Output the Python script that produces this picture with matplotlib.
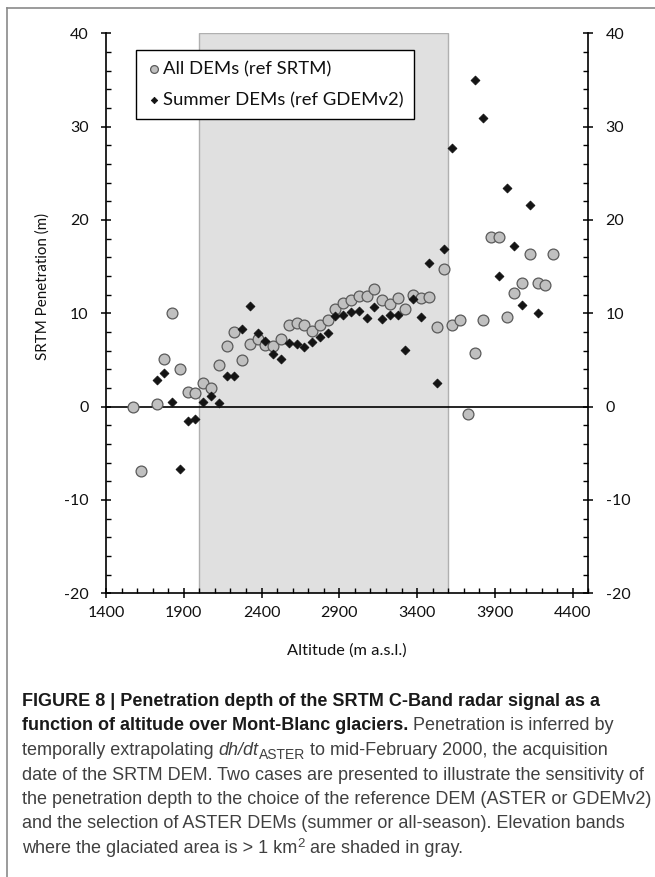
import matplotlib
matplotlib.use("Agg")
import matplotlib.pyplot as plt
from matplotlib.transforms import IdentityTransform
from matplotlib.lines import Line2D
from matplotlib.ticker import MultipleLocator

plt.rcParams["axes.unicode_minus"] = False

# ---------------- data ----------------
all_alt = [1575, 1625, 1725, 1775, 1825, 1875, 1925, 1975, 2025, 2075, 2125, 2175,
           2225, 2275, 2325, 2375, 2425, 2475, 2525, 2575, 2625, 2675, 2725, 2775,
           2825, 2875, 2925, 2975, 3025, 3075, 3125, 3175, 3225, 3275, 3325, 3375,
           3425, 3475, 3525, 3575, 3625, 3675, 3725, 3775, 3825, 3875, 3925, 3975,
           4025, 4075, 4125, 4175, 4225, 4275]
all_pen = [0.0, -6.9, 0.3, 5.1, 10.0, 4.0, 1.6, 1.5, 2.5, 2.0, 4.5, 6.5,
           8.0, 5.0, 6.7, 7.2, 6.6, 6.5, 7.3, 8.7, 9.0, 8.75, 8.1, 8.7,
           9.3, 10.5, 11.1, 11.4, 11.9, 11.9, 12.6, 11.4, 11.0, 11.6, 10.5, 12.0,
           11.6, 11.7, 8.5, 14.8, 8.7, 9.3, -0.8, 5.8, 9.3, 18.2, 18.2, 9.6,
           12.2, 13.2, 16.3, 13.2, 13.0, 16.4]

sum_alt = [1725, 1775, 1825, 1875, 1925, 1975, 2025, 2075, 2125, 2175, 2225, 2275,
           2325, 2375, 2425, 2475, 2525, 2575, 2625, 2675, 2725, 2775, 2825, 2875,
           2925, 2975, 3025, 3075, 3125, 3175, 3225, 3275, 3325, 3375, 3425, 3475,
           3525, 3575, 3625, 3775, 3825, 3925, 3975, 4025, 4075, 4125, 4175]
sum_pen = [2.9, 3.6, 0.5, -6.7, -1.5, -1.3, 0.5, 1.1, 0.4, 3.3, 3.3, 8.3,
           10.75, 7.9, 7.0, 5.6, 5.1, 6.8, 6.7, 6.4, 6.9, 7.5, 7.9, 9.7,
           9.8, 10.1, 10.2, 9.5, 10.7, 9.4, 9.8, 9.8, 6.1, 11.5, 9.6, 15.4,
           2.5, 16.9, 27.7, 35.0, 30.9, 14.05, 23.4, 17.2, 10.85, 21.6, 10.0]

shade_band = (2000, 3600)
x_ticks = [1400, 1900, 2400, 2900, 3400, 3900, 4400]
y_ticks = [-20, -10, 0, 10, 20, 30, 40]
labels = ["All DEMs (ref SRTM)", "Summer DEMs (ref GDEMv2)"]

W, H = 655, 877
fig = plt.figure(figsize=(W / 100, H / 100), dpi=100)
fig.patch.set_facecolor("white")

ax = fig.add_axes([106 / W, 1 - 593.3 / H, (588.2 - 106) / W, (593.3 - 33.3) / H])
ax.set_xlim(1400, 4500)
ax.set_ylim(-20, 40)

ax.axvspan(shade_band[0], shade_band[1], ymin=0, ymax=1, facecolor="#e0e0e0",
           edgecolor="#b0b0b0", linewidth=1.0, zorder=0)
ax.axhline(0, color="black", linewidth=1.2, zorder=1)

h1 = ax.scatter(all_alt, all_pen, s=7.8 ** 2, marker="o", facecolor="#c0c0c0",
                edgecolor="#5a5a5a", linewidth=0.9, zorder=3, label=labels[0])
h2 = ax.scatter(sum_alt, sum_pen, s=4.5 ** 2, marker="D", facecolor="#141414",
                edgecolor="#141414", linewidth=0.6, zorder=4, label=labels[1])

tick_font = "Lato"
tick_size = 11.5
ax.set_xticks(x_ticks)
ax.set_yticks(y_ticks)
ax.xaxis.set_minor_locator(MultipleLocator(100))
ax.yaxis.set_minor_locator(MultipleLocator(2))
ax.spines["top"].set_visible(False)
for s in ["left", "right", "bottom"]:
    ax.spines[s].set_linewidth(1.2)
    ax.spines[s].set_color("black")

ax.tick_params(axis="both", which="major", direction="inout", length=7.2, width=1.1,
               color="black", labelsize=tick_size, labelcolor="#111111")
ax.tick_params(axis="both", which="minor", direction="in", length=3.6, width=1.0,
               color="black")
ax.tick_params(axis="y", which="both", left=True, right=True, labelleft=True,
               labelright=True)
ax.tick_params(axis="y", which="major", pad=9.0)
ax.tick_params(axis="x", which="major", pad=5.5)
ax.tick_params(axis="x", which="both", top=False)
for t in ax.xaxis.get_major_ticks():
    t.label1.set_family(tick_font)
for t in ax.yaxis.get_major_ticks():
    t.label1.set_family(tick_font)
    t.label2.set_family(tick_font)

leg = ax.legend(handles=[h1, h2], labels=labels, loc="upper left",
                bbox_to_anchor=((136 - 106) / (588.2 - 106), (593.3 - 50) / 560),
                borderaxespad=0, frameon=True, fancybox=False, framealpha=1,
                edgecolor="black", prop={"family": tick_font, "size": 13.3},
                handletextpad=0.15, handlelength=0.7, borderpad=0.6,
                labelspacing=0.8, markerscale=0.72)
leg.get_frame().set_linewidth(1.0)
leg.set_zorder(5)
for t in leg.get_texts():
    t.set_color("#111111")

# axis titles
fig.text(347 / W, 1 - 651 / H, "Altitude (m a.s.l.)", ha="center", va="center",
         family=tick_font, fontsize=11.8, color="#111111")
fig.text(43 / W, 1 - 286 / H, "SRTM Penetration (m)", ha="center", va="center",
         rotation=90, family=tick_font, fontsize=10.9, color="#111111")

# frame lines
fig.add_artist(Line2D([7, 7], [H - 8, 0], transform=IdentityTransform(),
                      color="#8a8a8a", linewidth=1.2))
fig.add_artist(Line2D([7, W], [H - 8, H - 8], transform=IdentityTransform(),
                      color="#8a8a8a", linewidth=1.2))

# caption
renderer = fig.canvas.get_renderer()
cap_font = "Liberation Sans"
cap_size = 13.0
bold_col = "#1a1a1a"
reg_col = "#404040"


def seg_width(txt, **kw):
    t = fig.text(0, 0, txt, transform=IdentityTransform(), **kw)
    w = t.get_window_extent(renderer).width
    t.remove()
    return w


def space_w(**kw):
    return seg_width("x x", **kw) - seg_width("xx", **kw)


def put_line(x0, ybase_top, segments):
    x = x0
    yb = H - ybase_top
    for txt, style in segments:
        kw = dict(family=cap_font, fontsize=style.get("size", cap_size),
                  fontweight=style.get("weight", "normal"),
                  fontstyle=style.get("style", "normal"),
                  color=style.get("color", reg_col))
        lead = len(txt) - len(txt.lstrip(" "))
        trail = len(txt) - len(txt.rstrip(" "))
        sw = space_w(**kw)
        x += lead * sw
        core = txt.strip(" ")
        if core:
            t = fig.text(x, yb + style.get("dy", 0), core, transform=IdentityTransform(),
                         ha="left", va="baseline", **kw)
            x += t.get_window_extent(renderer).width
        x += trail * sw


B = {"weight": "bold", "color": bold_col}
R = {}
x0 = 22
ys = [706, 730.5, 755, 779.5, 804, 828.5, 853]
put_line(x0, ys[0], [("FIGURE 8 | Penetration depth of the SRTM C-Band radar signal as a", B)])
put_line(x0, ys[1], [("function of altitude over Mont-Blanc glaciers.", B),
                     (" Penetration is inferred by", R)])
put_line(x0, ys[2], [("temporally extrapolating ", R), ("dh/dt", {"style": "italic"}),
                     ("ASTER", {"size": 10.0, "dy": -4}),
                     (" to mid-February 2000, the acquisition", R)])
put_line(x0, ys[3], [("date of the SRTM DEM. Two cases are presented to illustrate the sensitivity of", R)])
put_line(x0, ys[4], [("the penetration depth to the choice of the reference DEM (ASTER or GDEMv2)", R)])
put_line(x0, ys[5], [("and the selection of ASTER DEMs (summer or all-season). Elevation bands", R)])
put_line(x0, ys[6], [("where the glaciated area is > 1 km", R), ("2", {"size": 9.5, "dy": 6}),
                     (" are shaded in gray.", R)])

fig.savefig("out.png", dpi=100, facecolor="white")
